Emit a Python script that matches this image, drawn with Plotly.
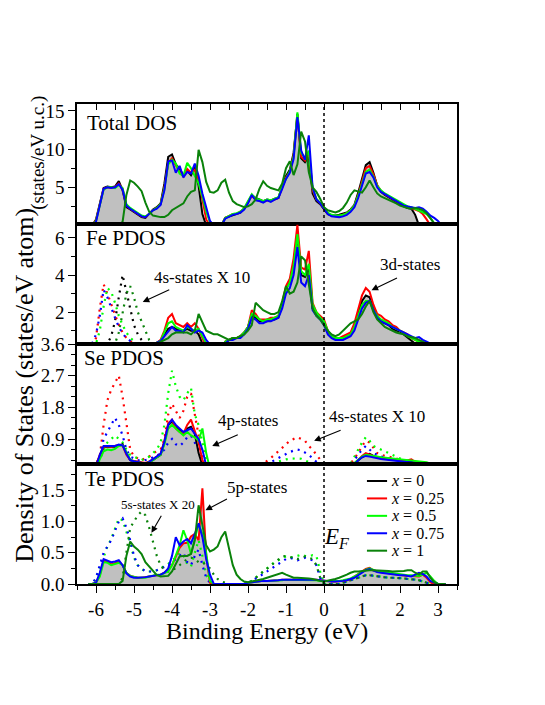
import plotly.graph_objects as go

# energy grid (eV), 0.1 eV steps
energy = [round(-6.2 + 0.1 * i, 1) for i in range(95)]
fe_s_energy = [round(-6.1 + 0.1 * i, 1) for i in range(19)]

labels = ['<i>x</i> = 0', '<i>x</i> = 0.25', '<i>x</i> = 0.5', '<i>x</i> = 0.75', '<i>x</i> = 1']
colors = ['#000000', '#ff0000', '#00ff00', '#0000ff', '#0a820a']

# ---- Total DOS (states/eV u.c.)
tot_x0 = [0, 0, 0.8, 2.8, 4.9, 5.1, 5.0, 5.1, 5.8, 4.6,
          2.4, 2.1, 1.8, 1.5, 1.1, 1.0, 1.6, 2.1, 2.4, 2.9,
          5.5, 9.0, 9.3, 8.0, 7.4, 6.6, 7.2, 6.6, 7.6, 5.2,
          1.5, 0, 0, 0, 0, 0, 1.0, 1.2, 1.4, 1.5,
          1.7, 2.2, 3.0, 4.0, 3.6, 3.4, 3.2, 3.4, 3.3, 3.5,
          3.6, 5.2, 6.5, 7.3, 9.5, 14.6, 8.8, 8.3, 9.0, 4.2,
          3.2, 2.8, 2.2, 1.5, 1.3, 1.3, 1.4, 1.5, 1.7, 2.1,
          2.7, 4.3, 6.2, 7.9, 8.3, 6.9, 5.2, 4.4, 4.0, 3.7,
          3.3, 3.0, 2.7, 2.5, 2.3, 2.2, 1.4, 0, 0, 0,
          0, 0, 0, 0, 0]
tot_x025 = [0, 0, 0.7, 2.7, 4.8, 5.0, 4.9, 5.0, 5.5, 4.8,
            2.6, 2.2, 1.9, 1.6, 1.2, 1.1, 1.6, 2.0, 2.3, 2.8,
            5.0, 8.2, 8.8, 7.9, 7.0, 6.4, 7.4, 6.9, 7.3, 6.0,
            3.2, 0.8, 0, 0, 0, 0, 1.0, 1.3, 1.5, 1.5,
            1.8, 2.2, 3.1, 3.9, 3.4, 3.3, 3.1, 3.3, 3.2, 3.4,
            3.6, 5.0, 6.3, 7.0, 9.2, 14.4, 9.0, 8.5, 9.6, 4.6,
            3.4, 2.9, 2.3, 1.6, 1.3, 1.2, 1.2, 1.4, 1.6, 2.0,
            2.6, 4.0, 5.8, 7.5, 7.8, 6.7, 5.3, 4.5, 4.1, 3.8,
            3.5, 3.2, 2.8, 2.6, 2.4, 2.3, 2.1, 1.9, 1.5, 0.8,
            0, 0, 0, 0, 0]
tot_x05 = [0, 0, 0.6, 2.6, 4.7, 5.0, 5.0, 4.9, 5.3, 4.9,
           2.8, 2.3, 2.0, 1.7, 1.3, 1.2, 1.5, 2.0, 2.3, 2.8,
           4.8, 8.0, 8.6, 8.1, 6.8, 6.5, 8.2, 7.5, 6.4, 5.5,
           3.8, 1.8, 0.4, 0, 0, 0, 1.0, 1.3, 1.5, 1.6,
           1.8, 2.3, 3.2, 4.1, 3.5, 3.4, 3.2, 3.4, 3.3, 3.5,
           3.7, 5.1, 6.2, 7.1, 9.0, 14.8, 9.5, 8.8, 9.8, 4.9,
           3.5, 3.0, 2.4, 1.7, 1.4, 1.3, 1.3, 1.4, 1.6, 2.0,
           2.6, 3.9, 5.5, 7.0, 7.3, 6.4, 5.2, 4.6, 4.2, 3.9,
           3.6, 3.3, 3.0, 2.7, 2.5, 2.4, 2.2, 2.0, 1.8, 1.5,
           1.0, 0.3, 0, 0, 0]
tot_x075 = [0, 0, 0.5, 2.5, 4.8, 5.0, 4.9, 5.0, 5.4, 4.7,
            2.6, 2.2, 1.9, 1.6, 1.2, 1.1, 1.5, 2.0, 2.2, 2.7,
            4.6, 8.4, 8.5, 6.9, 7.8, 6.3, 7.0, 6.8, 8.1, 6.5,
            4.2, 2.5, 0.6, 0, 0, 0, 0.9, 1.2, 1.4, 1.5,
            1.7, 2.1, 2.9, 4.0, 3.3, 3.2, 3.0, 3.3, 3.1, 3.4,
            3.6, 4.8, 6.1, 6.9, 8.7, 14.2, 9.8, 8.6, 11.8, 5.0,
            3.4, 2.9, 2.2, 1.5, 1.2, 1.1, 1.1, 1.2, 1.4, 1.8,
            2.4, 3.6, 5.3, 6.8, 7.0, 6.3, 5.0, 4.4, 4.1, 3.8,
            3.5, 3.2, 2.9, 2.6, 2.5, 2.4, 2.3, 2.4, 2.2, 1.8,
            1.3, 1.0, 0.6, 0, 0]
tot_x1 = [0, 0, 0, 0, 0, 0, 0, 0, 0, 0.5,
          4.0, 5.9, 5.6, 5.1, 4.5, 3.0, 1.8, 1.3, 1.2, 1.1,
          1.1, 1.4, 2.0, 2.3, 2.6, 2.9, 3.8, 4.4, 4.6, 9.9,
          8.3, 5.7, 4.4, 4.3, 4.6, 5.6, 6.0, 4.3, 3.2, 2.8,
          2.6, 2.4, 2.5, 2.8, 3.4, 4.8, 5.8, 5.2, 4.9, 4.7,
          4.6, 5.5, 7.5, 8.4, 6.6, 8.0, 12.3, 11.0, 7.0, 5.0,
          4.4, 3.5, 2.4, 2.0, 1.8, 1.7, 1.9, 2.3, 3.0, 4.0,
          4.6, 4.4, 4.3, 5.0, 5.9, 5.0, 4.2, 3.8, 3.6, 3.4,
          3.2, 2.9, 2.6, 2.4, 2.3, 2.2, 2.3, 2.2, 2.0, 1.6,
          1.0, 0.3, 0, 0, 0]

# ---- Fe PDOS (3d)
fe_x0 = [0, 0, 0.1, 0.15, 0.2, 0.2, 0.2, 0.2, 0.25, 0.2,
         0.15, 0.15, 0.15, 0.15, 0.15, 0.2, 0.25, 0.3, 0.35, 0.45,
         0.8, 1.1, 1.2, 1.1, 1.0, 1.0, 1.1, 1.0, 1.0, 0.8,
         0.3, 0, 0, 0, 0, 0, 0.4, 0.5, 0.6, 0.6,
         0.7, 0.9, 1.2, 1.8, 1.7, 1.5, 1.5, 1.5, 1.6, 1.6,
         1.7, 2.4, 3.3, 3.6, 4.6, 6.2, 4.0, 3.9, 4.4, 2.2,
         1.9, 1.7, 1.4, 0.9, 0.7, 0.6, 0.6, 0.6, 0.7, 0.8,
         1.3, 2.0, 2.6, 2.9, 2.8, 2.2, 1.8, 1.5, 1.4, 1.3,
         1.1, 1.0, 0.95, 0.8, 0.6, 0.5, 0.3, 0, 0, 0,
         0, 0, 0, 0, 0]
fe_x025 = [0, 0, 0.1, 0.15, 0.2, 0.2, 0.2, 0.2, 0.25, 0.2,
           0.15, 0.15, 0.15, 0.15, 0.15, 0.2, 0.25, 0.3, 0.35, 0.5,
           1.0, 1.7, 1.9, 1.4, 1.3, 1.2, 1.4, 1.2, 1.4, 1.1,
           0.6, 0.1, 0, 0, 0, 0, 0.4, 0.5, 0.6, 0.6,
           0.7, 0.9, 1.2, 2.1, 1.9, 1.6, 1.6, 1.6, 1.7, 1.7,
           1.8, 2.5, 3.4, 3.8, 4.9, 6.7, 4.4, 4.3, 5.3, 2.5,
           2.0, 1.8, 1.6, 1.0, 0.7, 0.6, 0.6, 0.7, 0.8, 0.9,
           1.4, 2.2, 2.9, 3.3, 3.1, 2.4, 1.9, 1.8, 1.6, 1.5,
           1.3, 1.2, 1.0, 0.9, 0.8, 0.6, 0.5, 0.4, 0.3, 0.2,
           0.1, 0, 0, 0, 0]
fe_x05 = [0, 0, 0.1, 0.15, 0.2, 0.2, 0.2, 0.2, 0.25, 0.2,
          0.15, 0.15, 0.15, 0.15, 0.15, 0.2, 0.25, 0.3, 0.35, 0.45,
          0.9, 1.4, 1.5, 1.2, 1.1, 1.0, 1.2, 1.1, 1.0, 1.1,
          0.7, 0.3, 0.1, 0, 0, 0, 0.4, 0.5, 0.6, 0.6,
          0.7, 0.9, 1.2, 1.9, 1.8, 1.6, 1.5, 1.6, 1.6, 1.7,
          1.8, 2.4, 3.2, 3.6, 4.5, 6.2, 4.2, 4.0, 4.6, 2.4,
          2.0, 1.7, 1.5, 1.0, 0.7, 0.6, 0.6, 0.6, 0.7, 0.8,
          1.2, 1.8, 2.4, 2.6, 2.6, 2.1, 1.8, 1.6, 1.5, 1.4,
          1.2, 1.1, 1.0, 0.9, 0.7, 0.6, 0.5, 0.4, 0.35, 0.3,
          0.2, 0.1, 0, 0, 0]
fe_x075 = [0, 0, 0.1, 0.15, 0.2, 0.2, 0.2, 0.2, 0.25, 0.2,
           0.15, 0.15, 0.15, 0.15, 0.15, 0.2, 0.25, 0.3, 0.35, 0.45,
           0.7, 1.0, 1.2, 1.0, 1.0, 0.9, 1.3, 1.1, 0.9, 1.0,
           0.9, 0.5, 0.2, 0, 0, 0, 0.3, 0.5, 0.5, 0.6,
           0.6, 0.8, 1.1, 1.7, 1.6, 1.4, 1.4, 1.5, 1.5, 1.6,
           1.7, 2.2, 3.0, 3.3, 4.0, 5.5, 3.6, 3.4, 4.0, 2.1,
           1.8, 1.6, 1.3, 0.8, 0.6, 0.5, 0.5, 0.5, 0.6, 0.7,
           1.0, 1.6, 2.2, 2.5, 2.6, 2.1, 1.7, 1.5, 1.4, 1.3,
           1.2, 1.1, 1.0, 0.9, 0.8, 0.7, 0.6, 0.65, 0.5, 0.4,
           0.3, 0.2, 0.1, 0, 0]
fe_x1 = [0, 0, 0, 0, 0, 0, 0, 0, 0, 0.1,
         0.2, 0.25, 0.25, 0.2, 0.2, 0.2, 0.2, 0.25, 0.3, 0.4,
         0.5, 0.6, 0.8, 0.9, 0.9, 0.9, 0.9, 0.8, 1.0, 1.9,
         1.4, 1.0, 0.9, 0.8, 0.8, 0.7, 0.6, 0.5, 0.6, 0.6,
         0.7, 0.8, 1.0, 1.3, 2.5, 2.3, 2.1, 2.0, 1.9, 1.9,
         2.0, 2.6, 3.4, 3.0, 3.1, 3.6, 5.0, 4.8, 3.4, 2.2,
         1.8, 1.6, 1.3, 1.0, 0.8, 0.7, 0.8, 1.0, 1.2, 1.4,
         1.5, 1.6, 1.9, 2.3, 2.6, 2.0, 1.6, 1.4, 1.2, 1.1,
         1.0, 0.9, 0.85, 0.8, 0.7, 0.65, 0.6, 0.5, 0.4, 0.3,
         0.2, 0.1, 0, 0, 0]
# Fe 4s x 10 (dotted)
fe_s_x0 = [0, 0, 0, 0.1, 0.3, 0.7, 1.5, 2.8, 4.0, 3.1, 2.1, 1.3, 0.8, 0.5, 0.35, 0.25, 0.2, 0.15, 0.1]
fe_s_x025 = [0.2, 0.6, 2.2, 3.5, 3.0, 2.4, 1.8, 1.3, 0.9, 0.6, 0.45, 0.3, 0.25, 0.2, 0.15, 0.1, 0.1, 0.1, 0.1]
fe_s_x05 = [0.1, 0.3, 1.0, 2.3, 3.3, 3.1, 2.5, 1.8, 1.3, 0.9, 0.6, 0.45, 0.3, 0.25, 0.2, 0.15, 0.1, 0.1, 0.1]
fe_s_x075 = [0.3, 0.8, 1.8, 3.2, 2.8, 2.2, 1.7, 1.2, 0.85, 0.6, 0.45, 0.3, 0.25, 0.2, 0.15, 0.1, 0.1, 0.1, 0.1]
fe_s_x1 = [0, 0, 0, 0, 0, 0.1, 0.3, 0.9, 2.0, 3.0, 3.4, 2.8, 2.0, 1.5, 1.0, 0.5, 0.3, 0.2, 0.1]

# ---- Se PDOS (4p solid, 4s x 10 dotted)
se_x0 = [0, 0, 0.15, 0.4, 0.68, 0.68, 0.67, 0.68, 0.72, 0.75,
         0.5, 0.3, 0.26, 0.25, 0.22, 0.2, 0.25, 0.3, 0.38, 0.45,
         0.8, 1.3, 1.4, 1.25, 1.15, 1.05, 1.2, 1.25, 1.05, 0.5,
         0.15, 0, 0, 0, 0, 0, 0, 0, 0, 0,
         0.02, 0.03, 0.04, 0.05, 0.05, 0.05, 0.05, 0.05, 0.05, 0.05,
         0.05, 0.05, 0.05, 0.05, 0.05, 0.05, 0.05, 0.05, 0.05, 0.05,
         0.05, 0.05, 0.05, 0.05, 0.05, 0.05, 0.05, 0.06, 0.08, 0.1,
         0.2, 0.3, 0.38, 0.45, 0.48, 0.42, 0.38, 0.36, 0.34, 0.33,
         0.32, 0.3, 0.3, 0.28, 0.27, 0.26, 0.2, 0.1, 0.05, 0,
         0, 0, 0, 0, 0]
se_x025 = [0, 0, 0.15, 0.45, 0.68, 0.7, 0.68, 0.7, 0.73, 0.72,
           0.45, 0.3, 0.28, 0.25, 0.23, 0.22, 0.26, 0.32, 0.4, 0.48,
           0.85, 1.35, 1.45, 1.2, 1.1, 1.05, 1.3, 1.45, 1.1, 0.8,
           0.3, 0.05, 0, 0, 0, 0, 0, 0, 0, 0,
           0.02, 0.03, 0.04, 0.05, 0.05, 0.05, 0.05, 0.05, 0.05, 0.05,
           0.05, 0.05, 0.05, 0.05, 0.05, 0.05, 0.05, 0.05, 0.05, 0.05,
           0.05, 0.05, 0.05, 0.05, 0.05, 0.05, 0.05, 0.06, 0.08, 0.1,
           0.2, 0.32, 0.42, 0.5, 0.46, 0.4, 0.37, 0.35, 0.33, 0.32,
           0.31, 0.3, 0.3, 0.29, 0.3, 0.32, 0.25, 0.12, 0.05, 0,
           0, 0, 0, 0, 0]
se_x05 = [0, 0, 0.1, 0.35, 0.55, 0.6, 0.58, 0.62, 0.7, 0.72,
          0.5, 0.32, 0.26, 0.24, 0.22, 0.2, 0.25, 0.3, 0.38, 0.45,
          0.75, 1.2, 1.3, 1.2, 1.1, 1.0, 1.1, 1.0, 0.95, 0.85,
          1.2, 0.5, 0.05, 0, 0, 0, 0, 0, 0, 0,
          0.02, 0.03, 0.04, 0.05, 0.05, 0.05, 0.05, 0.05, 0.05, 0.05,
          0.05, 0.05, 0.05, 0.05, 0.05, 0.05, 0.05, 0.05, 0.05, 0.05,
          0.05, 0.05, 0.05, 0.05, 0.05, 0.05, 0.05, 0.06, 0.08, 0.1,
          0.22, 0.32, 0.4, 0.45, 0.44, 0.42, 0.4, 0.38, 0.37, 0.36,
          0.35, 0.34, 0.33, 0.32, 0.3, 0.3, 0.29, 0.28, 0.26, 0.24,
          0.2, 0.1, 0.02, 0, 0]
se_x075 = [0, 0, 0.12, 0.45, 0.7, 0.7, 0.68, 0.7, 0.74, 0.72,
           0.48, 0.3, 0.27, 0.25, 0.22, 0.2, 0.25, 0.32, 0.4, 0.48,
           0.82, 1.3, 1.45, 1.3, 1.2, 1.1, 1.15, 1.2, 1.05, 0.9,
           0.6, 0.15, 0, 0, 0, 0, 0, 0, 0, 0,
           0.02, 0.03, 0.04, 0.05, 0.05, 0.05, 0.05, 0.05, 0.05, 0.05,
           0.05, 0.05, 0.05, 0.05, 0.05, 0.05, 0.05, 0.05, 0.05, 0.05,
           0.05, 0.05, 0.05, 0.05, 0.05, 0.05, 0.05, 0.06, 0.08, 0.1,
           0.18, 0.3, 0.38, 0.42, 0.4, 0.37, 0.35, 0.33, 0.32, 0.31,
           0.3, 0.29, 0.28, 0.27, 0.26, 0.25, 0.22, 0.15, 0.08, 0.03,
           0, 0, 0, 0, 0]
se_s_x025 = [0, 0, 0.2, 0.4, 1.3, 2.0, 2.3, 2.5, 2.7, 2.1,
             1.3, 0.6, 0.4, 0.35, 0.3, 0.35, 0.4, 0.5, 0.55, 0.6,
             0.9, 1.6, 1.9, 1.7, 1.5, 1.7, 2.1, 2.2, 1.6, 1.0,
             0.4, 0.1, 0, 0, 0, 0, 0, 0, 0, 0,
             0, 0, 0, 0, 0, 0.1, 0.2, 0.28, 0.36, 0.45,
             0.55, 0.65, 0.75, 0.85, 0.9, 0.95, 0.9, 0.85, 0.7, 0.6,
             0.45, 0.3, 0.15, 0.05, 0, 0, 0, 0.05, 0.1, 0.2,
             0.35, 0.5, 0.7, 0.85, 0.8, 0.65, 0.5, 0.45, 0.42, 0.4,
             0.38, 0.35, 0.32, 0.3, 0.28, 0.25, 0.2, 0.15, 0.1, 0.05,
             0, 0, 0, 0, 0]
se_s_x05 = [0, 0, 0.1, 0.3, 0.6, 0.8, 0.9, 1.0, 0.9, 0.8,
            0.6, 0.45, 0.4, 0.35, 0.3, 0.35, 0.4, 0.5, 0.6, 0.8,
            1.3, 2.2, 2.84, 2.4, 2.1, 2.0, 2.2, 2.35, 1.6, 1.3,
            0.8, 0.3, 0.05, 0, 0, 0, 0, 0, 0, 0,
            0, 0, 0, 0, 0, 0.05, 0.1, 0.15, 0.2, 0.23,
            0.26, 0.3, 0.32, 0.34, 0.35, 0.35, 0.34, 0.3, 0.25, 0.2,
            0.15, 0.1, 0.05, 0, 0, 0, 0, 0.05, 0.1, 0.2,
            0.4, 0.6, 0.8, 0.95, 0.85, 0.7, 0.65, 0.6, 0.55, 0.5,
            0.45, 0.4, 0.35, 0.3, 0.28, 0.25, 0.2, 0.15, 0.1, 0.05,
            0, 0, 0, 0, 0]
se_s_x075 = [0, 0, 0.15, 0.4, 0.9, 1.1, 1.3, 1.5, 1.3, 1.0,
             0.6, 0.4, 0.35, 0.3, 0.28, 0.3, 0.32, 0.38, 0.42, 0.5,
             0.6, 0.8, 0.9, 0.75, 0.7, 0.8, 0.95, 1.0, 0.8, 0.6,
             0.3, 0.1, 0, 0, 0, 0, 0, 0, 0, 0,
             0, 0, 0, 0, 0, 0.05, 0.1, 0.18, 0.25, 0.3,
             0.36, 0.42, 0.48, 0.53, 0.57, 0.6, 0.58, 0.52, 0.45, 0.35,
             0.25, 0.15, 0.05, 0, 0, 0, 0, 0.05, 0.1, 0.15,
             0.3, 0.45, 0.6, 0.7, 0.6, 0.5, 0.45, 0.4, 0.38, 0.35,
             0.32, 0.3, 0.28, 0.25, 0.22, 0.2, 0.15, 0.1, 0.05, 0.02,
             0, 0, 0, 0, 0]

# ---- Te PDOS (5p solid, 5s x 20 dotted)
te_x025 = [0, 0, 0.02, 0.15, 0.38, 0.36, 0.31, 0.33, 0.36, 0.3,
           0.18, 0.13, 0.11, 0.1, 0.1, 0.11, 0.12, 0.14, 0.15, 0.15,
           0.18, 0.23, 0.3, 0.44, 0.58, 0.65, 0.66, 0.76, 0.8, 0.7,
           1.53, 0.45, 0.02, 0, 0, 0, 0, 0, 0, 0,
           0, 0, 0.02, 0.03, 0.04, 0.04, 0.05, 0.05, 0.05, 0.05,
           0.06, 0.07, 0.07, 0.07, 0.07, 0.07, 0.07, 0.07, 0.08, 0.08,
           0.07, 0.06, 0.05, 0.04, 0.04, 0.04, 0.04, 0.05, 0.06, 0.08,
           0.12, 0.16, 0.2, 0.24, 0.26, 0.22, 0.2, 0.19, 0.18, 0.17,
           0.16, 0.15, 0.15, 0.14, 0.13, 0.13, 0.12, 0.12, 0.15, 0.1,
           0.03, 0, 0, 0, 0]
te_x05 = [0, 0, 0.02, 0.12, 0.35, 0.34, 0.3, 0.32, 0.34, 0.3,
          0.18, 0.13, 0.11, 0.1, 0.1, 0.1, 0.12, 0.14, 0.15, 0.15,
          0.17, 0.2, 0.3, 0.45, 0.62, 0.86, 0.7, 0.48, 0.7, 0.96,
          0.8, 0.5, 0.05, 0, 0, 0, 0, 0, 0, 0,
          0, 0, 0.02, 0.03, 0.04, 0.04, 0.05, 0.05, 0.05, 0.05,
          0.06, 0.06, 0.07, 0.07, 0.07, 0.07, 0.07, 0.07, 0.07, 0.07,
          0.06, 0.05, 0.05, 0.04, 0.04, 0.04, 0.05, 0.06, 0.07, 0.09,
          0.12, 0.16, 0.19, 0.23, 0.25, 0.22, 0.2, 0.2, 0.19, 0.18,
          0.17, 0.16, 0.15, 0.15, 0.14, 0.14, 0.13, 0.13, 0.15, 0.18,
          0.12, 0.05, 0, 0, 0]
te_x075 = [0, 0, 0.02, 0.18, 0.4, 0.38, 0.35, 0.36, 0.38, 0.3,
           0.17, 0.12, 0.1, 0.1, 0.1, 0.11, 0.12, 0.13, 0.14, 0.15,
           0.18, 0.25, 0.45, 0.75, 0.62, 0.68, 0.72, 0.65, 0.8, 0.97,
           0.75, 0.4, 0.15, 0, 0, 0, 0, 0, 0, 0,
           0, 0, 0.02, 0.03, 0.04, 0.04, 0.05, 0.05, 0.05, 0.05,
           0.06, 0.07, 0.07, 0.07, 0.07, 0.07, 0.07, 0.07, 0.08, 0.08,
           0.07, 0.06, 0.05, 0.04, 0.04, 0.04, 0.04, 0.05, 0.06, 0.08,
           0.1, 0.14, 0.18, 0.22, 0.24, 0.21, 0.19, 0.18, 0.17, 0.16,
           0.15, 0.15, 0.14, 0.14, 0.13, 0.12, 0.15, 0.18, 0.16, 0.12,
           0.05, 0.02, 0, 0, 0]
te_x1 = [0, 0, 0, 0, 0, 0, 0, 0, 0, 0.05,
         0.45, 0.68, 0.6, 0.55, 0.48, 0.35, 0.28, 0.2, 0.14, 0.12,
         0.12, 0.13, 0.2, 0.32, 0.44, 0.45, 0.45, 0.48, 0.7, 1.26,
         0.95, 0.62, 0.52, 0.55, 0.6, 0.75, 0.84, 0.55, 0.3, 0.15,
         0.08, 0.04, 0.03, 0.04, 0.05, 0.06, 0.08, 0.1, 0.12, 0.15,
         0.17, 0.18, 0.15, 0.12, 0.1, 0.1, 0.1, 0.1, 0.09, 0.08,
         0.06, 0.05, 0.04, 0.05, 0.06, 0.08, 0.1, 0.12, 0.15, 0.18,
         0.2, 0.2, 0.21, 0.22, 0.22, 0.22, 0.22, 0.22, 0.21, 0.21,
         0.2, 0.2, 0.2, 0.21, 0.22, 0.22, 0.18, 0.15, 0.2, 0.2,
         0.1, 0.03, 0, 0, 0]
te_s_x05 = [0, 0, 0.08, 0.25, 0.45, 0.6, 0.72, 0.9, 1.05, 1.02,
            0.85, 0.65, 0.42, 0.3, 0.24, 0.2, 0.2, 0.2, 0.22, 0.25,
            0.28, 0.32, 0.38, 0.42, 0.5, 0.45, 0.32, 0.28, 0.5, 0.7,
            0.45, 0.15, 0.03, 0, 0, 0, 0, 0, 0, 0,
            0, 0, 0.02, 0.05, 0.1, 0.15, 0.2, 0.25, 0.3, 0.35,
            0.38, 0.42, 0.44, 0.43, 0.42, 0.45, 0.47, 0.45, 0.44, 0.46,
            0.45, 0.2, 0, 0, 0, 0, 0, 0.02, 0.04, 0.06,
            0.08, 0.1, 0.12, 0.14, 0.14, 0.13, 0.12, 0.12, 0.11, 0.1,
            0.1, 0.1, 0.09, 0.09, 0.08, 0.08, 0.07, 0.06, 0.04, 0.02,
            0, 0, 0, 0, 0]
te_s_x075 = [0, 0, 0.1, 0.3, 0.5, 0.6, 0.7, 0.85, 1.0, 1.05,
             0.9, 0.7, 0.45, 0.3, 0.25, 0.2, 0.2, 0.2, 0.22, 0.25,
             0.28, 0.3, 0.35, 0.4, 0.45, 0.5, 0.35, 0.3, 0.45, 0.55,
             0.3, 0.1, 0.02, 0, 0, 0, 0, 0, 0, 0,
             0, 0, 0.02, 0.05, 0.08, 0.12, 0.16, 0.2, 0.24, 0.28,
             0.32, 0.36, 0.4, 0.42, 0.4, 0.38, 0.4, 0.42, 0.4, 0.38,
             0.3, 0.1, 0, 0, 0, 0, 0, 0.02, 0.04, 0.06,
             0.08, 0.1, 0.12, 0.14, 0.14, 0.13, 0.12, 0.12, 0.11, 0.1,
             0.1, 0.1, 0.09, 0.09, 0.08, 0.08, 0.07, 0.06, 0.04, 0.02,
             0, 0, 0, 0, 0]
te_s_x1 = [0, 0, 0, 0, 0, 0, 0, 0, 0, 0.1,
           0.5, 0.9, 1.0, 1.1, 1.16, 1.1, 0.9, 0.68, 0.45, 0.3,
           0.22, 0.2, 0.22, 0.25, 0.3, 0.35, 0.4, 0.42, 0.4, 0.35,
           0.35, 0.3, 0.25, 0.15, 0.08, 0.04, 0.02, 0, 0, 0,
           0, 0, 0.02, 0.05, 0.1, 0.15, 0.2, 0.25, 0.3, 0.35,
           0.4, 0.44, 0.45, 0.43, 0.42, 0.4, 0.42, 0.44, 0.42, 0.4,
           0.3, 0.1, 0, 0, 0, 0, 0, 0.02, 0.04, 0.06,
           0.08, 0.1, 0.12, 0.14, 0.14, 0.13, 0.12, 0.12, 0.11, 0.1,
           0.1, 0.1, 0.09, 0.09, 0.08, 0.08, 0.07, 0.06, 0.04, 0.02,
           0, 0, 0, 0, 0]

FONT = 'Liberation Serif'
GREY = '#c0c0c0'
DOT = '2px,5px'

fig = go.Figure()


def add_fill(y, xa, ya):
    fig.add_trace(go.Scatter(x=energy, y=y, xaxis=xa, yaxis=ya, mode='lines',
                             fill='tozeroy', fillcolor=GREY, line=dict(width=0),
                             showlegend=False, hoverinfo='skip'))


def add_line(x, y, color, xa, ya, dotted=False):
    fig.add_trace(go.Scatter(x=x, y=y, xaxis=xa, yaxis=ya, mode='lines',
                             line=dict(color=color, width=2.2 if dotted else 2,
                                       dash=DOT if dotted else 'solid'),
                             showlegend=False))


# total DOS
add_fill(tot_x0, 'x', 'y')
for ys, c in zip([tot_x0, tot_x025, tot_x05, tot_x075, tot_x1], colors):
    add_line(energy, ys, c, 'x', 'y')

# Fe
add_fill(fe_x0, 'x2', 'y2')
for ys, c in zip([fe_s_x0, fe_s_x025, fe_s_x05, fe_s_x075, fe_s_x1], colors):
    add_line(fe_s_energy, ys, c, 'x2', 'y2', dotted=True)
for ys, c in zip([fe_x0, fe_x025, fe_x05, fe_x075, fe_x1], colors):
    add_line(energy, ys, c, 'x2', 'y2')

# Se
add_fill(se_x0, 'x3', 'y3')
for ys, c in zip([se_s_x025, se_s_x05, se_s_x075], colors[1:4]):
    add_line(energy, ys, c, 'x3', 'y3', dotted=True)
for ys, c in zip([se_x0, se_x025, se_x05, se_x075], colors[:4]):
    add_line(energy, ys, c, 'x3', 'y3')

# Te
add_fill(te_x025, 'x4', 'y4')
for ys, c in zip([te_s_x05, te_s_x075, te_s_x1], colors[2:]):
    add_line(energy, ys, c, 'x4', 'y4', dotted=True)
for ys, c in zip([te_x025, te_x05, te_x075, te_x1], colors[1:]):
    add_line(energy, ys, c, 'x4', 'y4')

tick_font = dict(family=FONT, size=19, color='black')
xr = [-6.5, 3.5]
x_common = dict(range=xr, showline=True, linecolor='black', linewidth=1.5, mirror=True,
                showgrid=False, zeroline=False, showticklabels=False, ticks='')
fig.update_layout(
    xaxis=dict(x_common, anchor='y', side='top', ticks='inside', ticklen=6, tickwidth=1.2,
               dtick=0.5, tick0=0, tickcolor='black'),
    xaxis2=dict(x_common, anchor='y2'),
    xaxis3=dict(x_common, anchor='y3'),
    xaxis4=dict(x_common, anchor='y4', ticks='outside', ticklen=7, tickwidth=1.2,
                tickcolor='black', showticklabels=True, tickfont=tick_font,
                tickvals=[-6, -5, -4, -3, -2, -1, 0, 1, 2, 3],
                ticktext=['-6', '-5', '-4', '-3', '-2', '-1', '0', '1', '2', '3'],
                minor=dict(dtick=0.5, tick0=0, ticklen=4, ticks='outside', tickcolor='black')),
)

y_common = dict(showline=True, linecolor='black', linewidth=1.5, mirror=True, showgrid=False,
                zeroline=False, ticks='outside', ticklen=7, tickwidth=1.2, tickcolor='black',
                tickfont=tick_font)
fig.update_layout(
    yaxis=dict(y_common, domain=[0.75, 1], anchor='x', range=[0.2, 15.9],
               tickvals=[5, 10, 15], minor=dict(dtick=2.5, tick0=0, ticklen=4, ticks='outside')),
    yaxis2=dict(y_common, domain=[0.5, 0.75], anchor='x2', range=[0.28, 6.75],
                tickvals=[2, 4, 6], minor=dict(dtick=1, tick0=0, ticklen=4, ticks='outside')),
    yaxis3=dict(y_common, domain=[0.25, 0.5], anchor='x3', range=[0.19, 3.6],
                tickvals=[0.9, 1.8, 2.7, 3.6], ticktext=['0.9', '1.8', '2.7', '3.6'],
                minor=dict(dtick=0.3, tick0=0, ticklen=4, ticks='outside')),
    yaxis4=dict(y_common, domain=[0, 0.25], anchor='x4', range=[0, 1.92],
                tickvals=[0, 0.5, 1.0, 1.5], ticktext=['0.0', '0.5', '1.0', '1.5'],
                minor=dict(dtick=0.25, tick0=0, ticklen=4, ticks='outside')),
)

# Fermi level
shapes = [dict(type='line', xref='x4', yref='paper', x0=0, x1=0, y0=0, y1=1,
               line=dict(color='black', width=1.5, dash='3px,3px'))]

ann = []
for txt, xp, yp in [('Total DOS', 0.021, 0.960), ('Fe PDOS', 0.018, 0.721),
                    ('Se PDOS', 0.012, 0.470), ('Te PDOS', 0.015, 0.218)]:
    ann.append(dict(text=txt, xref='paper', yref='paper', x=xp, y=yp, xanchor='left',
                    yanchor='middle', showarrow=False, font=dict(family=FONT, size=21)))

# labelled arrows: (text, xref, yref, text x, text y, head x, head y, tail dx, tail dy, size)
notes = [
    ('4s-states X 10', 'x2', 'y2', -3.2, 3.89, -4.77, 2.54, 28, -13, 17),
    ('3d-states', 'x2', 'y2', 2.27, 4.54, 1.25, 3.18, 27, -13, 17),
    ('4p-states', 'x3', 'y3', -1.99, 1.44, -2.94, 0.70, 27, -12, 17),
    ('4s-states X 10', 'x3', 'y3', 1.39, 1.55, -0.26, 0.85, 28, -11, 17),
    ('5p-states', 'x4', 'y4', -1.76, 1.55, -3.12, 1.18, 23, -12, 17),
    ('5s-states X 20', 'x4', 'y4', -4.38, 1.28, -4.54, 0.82, 11, -19, 13),
]
for txt, xa, ya, tx, ty, hx, hy, dx, dy, sz in notes:
    ann.append(dict(text=txt, xref=xa, yref=ya, x=tx, y=ty, xanchor='center',
                    yanchor='middle', showarrow=False, font=dict(family=FONT, size=sz)))
    ann.append(dict(text=' ', xref=xa, yref=ya, x=hx, y=hy, ax=dx, ay=dy, showarrow=True,
                    arrowhead=2, arrowsize=1.2, arrowwidth=1.1, arrowcolor='black',
                    font=dict(size=1)))

ann.append(dict(text='<i>E</i><sub><i>F</i></sub>', xref='x4', yref='y4', x=0.33, y=0.74,
                xanchor='center', yanchor='middle', showarrow=False,
                font=dict(family=FONT, size=23)))
ann.append(dict(text='Binding Energy (eV)', xref='paper', yref='paper', x=0.5, y=-0.098,
                xanchor='center', yanchor='middle', showarrow=False,
                font=dict(family=FONT, size=24)))
ann.append(dict(text='Density of States (states/eV atom)', xref='paper', yref='paper',
                x=-0.137, y=0.415, xanchor='center', yanchor='middle', textangle=-90,
                showarrow=False, font=dict(family=FONT, size=26)))
ann.append(dict(text='(states/eV u.c.)', xref='paper', yref='paper', x=-0.103, y=0.898,
                xanchor='center', yanchor='middle', textangle=-90, showarrow=False,
                font=dict(family=FONT, size=19)))

# hand-placed legend in the Te panel
for k, (lab, c) in enumerate(zip(labels, colors)):
    yk = 0.2146 - 0.0363 * k
    shapes.append(dict(type='line', xref='paper', yref='paper', x0=0.763, x1=0.816,
                       y0=yk, y1=yk, line=dict(color=c, width=2)))
    ann.append(dict(text=lab, xref='paper', yref='paper', x=0.822, y=yk, xanchor='left',
                    yanchor='middle', showarrow=False, font=dict(family=FONT, size=16)))

fig.update_layout(
    width=537, height=697,
    margin=dict(l=69, r=88, t=96, b=121),
    paper_bgcolor='white', plot_bgcolor='white',
    font=dict(family=FONT, color='black'),
    annotations=ann, shapes=shapes, showlegend=False,
)

fig.write_html("out.html")
